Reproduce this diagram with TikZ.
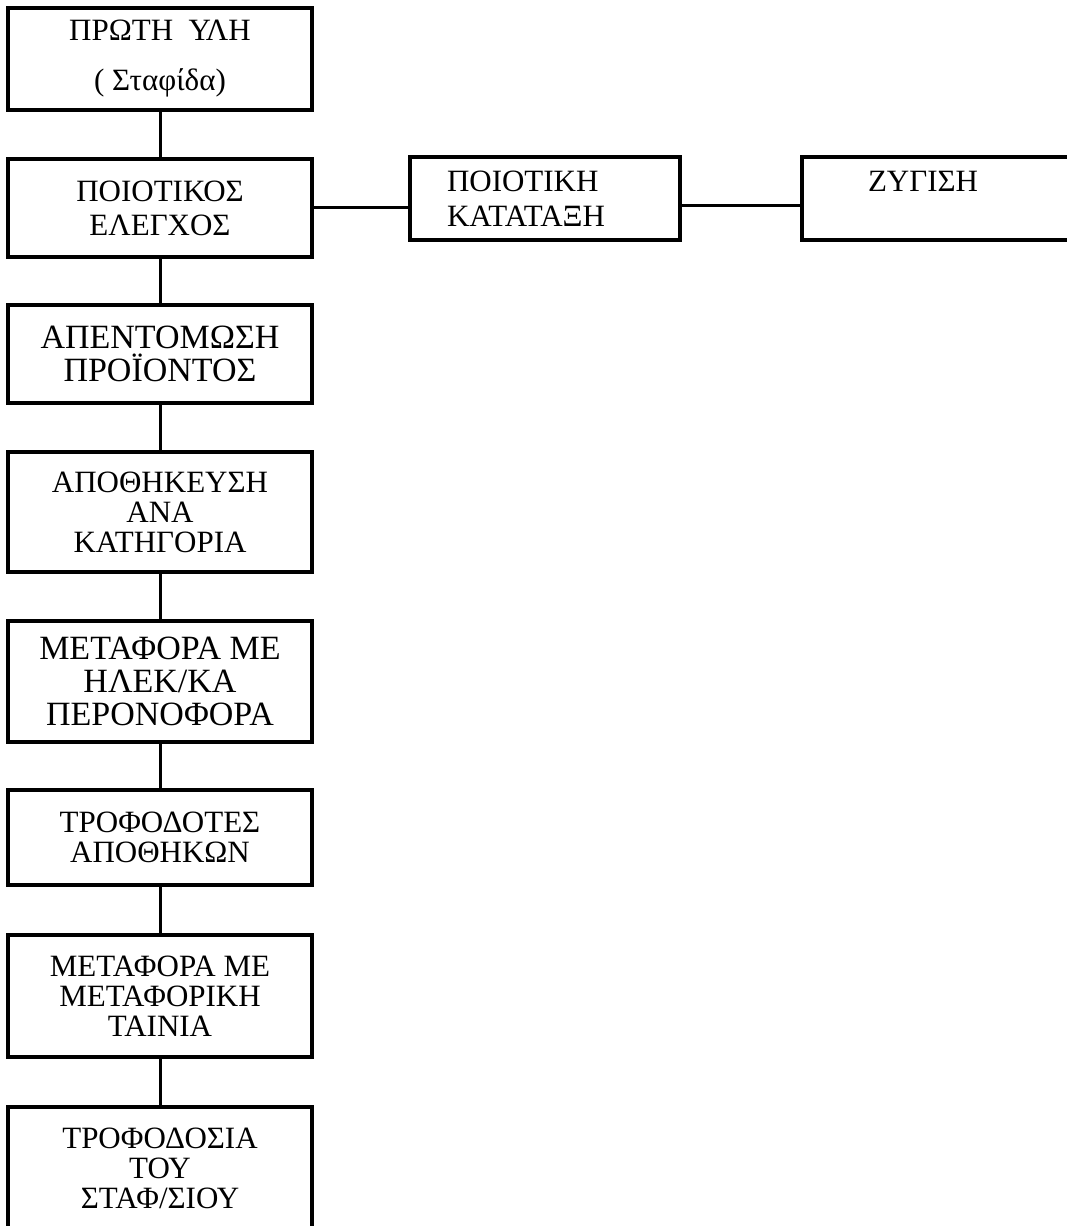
\documentclass[tikz,border=0pt]{standalone}
\usepackage{fontspec}
\setmainfont{Liberation Serif}
\usepackage{tikz}
\usetikzlibrary{positioning, calc}
\tikzstyle{StageBox}=[rectangle,
		draw=black,
		line width=1.6pt,
		minimum width=152pt,
		inner sep=0pt,
		align=center,
		font=\fontsize{15.5}{15}\selectfont]
\tikzstyle{BigText}=[font=\fontsize{17}{16.5}\selectfont]
\tikzstyle{SideBox}=[rectangle,
		draw=black,
		line width=1.6pt,
		minimum height=41.5pt,
		inner ysep=0pt,
		inner xsep=0pt,
		align=left,
		font=\fontsize{15.5}{15}\selectfont]
\tikzstyle{link}=[-,line width=1.5pt]

\begin{document}
\begin{tikzpicture}[x=0.5pt,y=-0.5pt]
  \useasboundingbox (0,0) rectangle (1066,1226);

  % main column
  \node [StageBox,minimum height=51pt] (raw) at (160,59) {ΠΡΩΤΗ \ ΥΛΗ\\[10pt]( Σταφίδα)};
  \node [StageBox,minimum height=49pt] (check) at (160,208) {ΠΟΙΟΤΙΚΟΣ\\[2pt]ΕΛΕΓΧΟΣ};
  \node [StageBox,BigText,minimum height=49pt] (fumig) at (160,354) {ΑΠΕΝΤΟΜΩΣΗ\\ΠΡΟΪΟΝΤΟΣ};
  \node [StageBox,minimum height=60pt] (store) at (160,512) {ΑΠΟΘΗΚΕΥΣΗ\\ΑΝΑ\\ΚΑΤΗΓΟΡΙΑ};
  \node [StageBox,BigText,minimum height=60.5pt] (fork) at (160,681.5) {ΜΕΤΑΦΟΡΑ ΜΕ\\ΗΛΕΚ/ΚΑ\\ΠΕΡΟΝΟΦΟΡΑ};
  \node [StageBox,minimum height=47.5pt] (feeders) at (160,837.5) {ΤΡΟΦΟΔΟΤΕΣ\\ΑΠΟΘΗΚΩΝ};
  \node [StageBox,minimum height=61pt] (belt) at (160,996) {ΜΕΤΑΦΟΡΑ ΜΕ\\ΜΕΤΑΦΟΡΙΚΗ\\ΤΑΙΝΙΑ};
  \node [StageBox,minimum height=61pt] (feed) at (160,1168) {ΤΡΟΦΟΔΟΣΙΑ\\ΤΟΥ\\ΣΤΑΦ/ΣΙΟΥ};

  % side branch
  \node [SideBox,inner xsep=18.5pt,text width=98pt] (grade) at (545,198.5) {ΠΟΙΟΤΙΚΗ\\[2.5pt]ΚΑΤΑΤΑΞΗ};
  \node [SideBox,inner xsep=33pt,text width=79pt] (weigh) at (947,198.5) {ΖΥΓΙΣΗ\\[2.5pt]~};

  \draw [link] (raw) -- (check);
  \draw [link] (check) -- (fumig);
  \draw [link] (fumig) -- (store);
  \draw [link] (store) -- (fork);
  \draw [link] (fork) -- (feeders);
  \draw [link] (feeders) -- (belt);
  \draw [link] (belt) -- (feed);

  \draw [link] ($(check.east)+(0,-1)$) -- ($(check.east -| grade.west)+(0,-1)$);
  \draw [link] ($(grade.east)+(0,6.5)$) -- ($(grade.east -| weigh.west)+(0,6.5)$);

\end{tikzpicture}
\end{document}
